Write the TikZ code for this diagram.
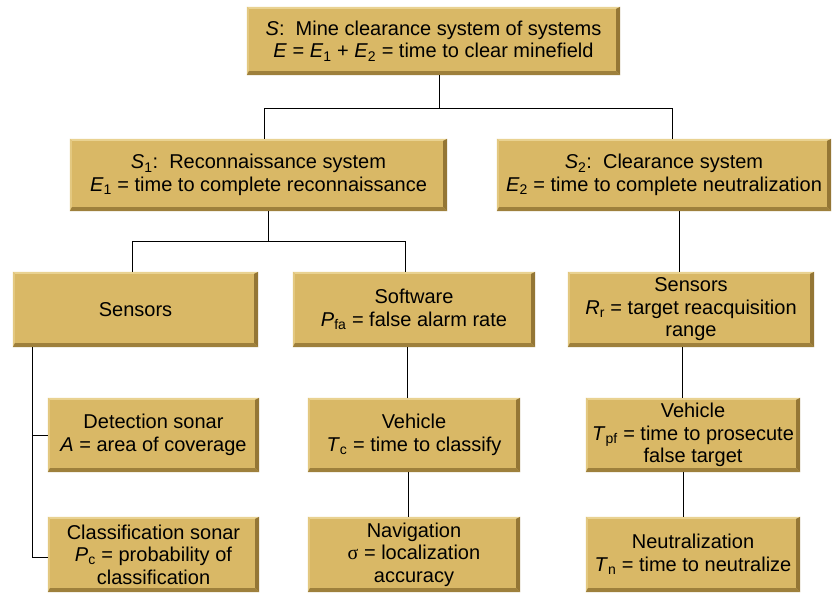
\documentclass[tikz,border=0pt]{standalone}
\usepackage{fontspec}
\setmainfont{Liberation Sans}
\newfontfamily\sigfont{Liberation Serif}
\usetikzlibrary{backgrounds}
\definecolor{gold}{HTML}{D9B866}
\definecolor{golddark}{HTML}{947635}
\definecolor{goldlight}{HTML}{E9D291}
\newcommand\iv[2]{\textit{#1}\textsubscript{#2}}
\tikzset{
  gbox/.style={fill=gold, inner sep=0pt, align=center, font=\fontsize{20}{22.5}\selectfont},
  conn/.style={draw=black, line width=0.9pt},
}
\newcommand\bevel[1]{%
  \begin{pgfonlayer}{background}
    \foreach \s in {1,...,6}{
      \fill[black, opacity=0.045]
        ([xshift=\s*0.8pt-1pt, yshift=-\s*0.8pt-1pt]#1.south west) rectangle
        ([xshift=\s*0.8pt+1pt, yshift=-\s*0.8pt+1pt]#1.north east);
    }
  \end{pgfonlayer}
  \fill[goldlight] (#1.north west) -- (#1.north east) -- ([xshift=-3pt,yshift=-2pt]#1.north east) -- ([xshift=2pt,yshift=-2pt]#1.north west) -- cycle;
  \fill[goldlight!60!gold] (#1.north west) -- ([xshift=2pt,yshift=-2pt]#1.north west) -- ([xshift=2pt,yshift=3pt]#1.south west) -- (#1.south west) -- cycle;
  \fill[golddark] (#1.north east) -- (#1.south east) -- ([xshift=-4pt,yshift=4pt]#1.south east) -- ([xshift=-4pt,yshift=-2pt]#1.north east) -- cycle;
  \fill[golddark!85!gold] (#1.south west) -- (#1.south east) -- ([xshift=-4pt,yshift=4pt]#1.south east) -- ([xshift=2pt,yshift=4pt]#1.south west) -- cycle;
}
\begin{document}
\begin{tikzpicture}[x=1pt,y=-1pt]
\useasboundingbox (0,0) rectangle (832,593);
\fill[white] (0,0) rectangle (832,593);

\node[gbox, minimum width=373pt, minimum height=68pt] (top) at (433.5,41)
  {\textit{S}:\ \ Mine clearance system of systems\\\textit{E} = \iv{E}{1} + \iv{E}{2} = time to clear minefield};
\node[gbox, minimum width=377pt, minimum height=72pt] (s1) at (258.5,175)
  {\iv{S}{1}:\ \ Reconnaissance system\\\iv{E}{1} = time to complete reconnaissance};
\node[gbox, minimum width=334pt, minimum height=72pt] (s2) at (664,175)
  {\iv{S}{2}:\ \ Clearance system\\\iv{E}{2} = time to complete neutralization};

\node[gbox, minimum width=245pt, minimum height=75pt] (sen) at (135.5,309.5) {Sensors};
\node[gbox, minimum width=242pt, minimum height=75pt] (sw) at (414,309.5)
  {Software\\\iv{P}{fa} = false alarm rate};
\node[gbox, minimum width=246pt, minimum height=75pt] (senr) at (691,309.5)
  {Sensors\\\iv{R}{r} = target reacquisition\\range};

\node[gbox, minimum width=211pt, minimum height=74pt] (det) at (153.5,435)
  {Detection sonar\\\textit{A} = area of coverage};
\node[gbox, minimum width=212pt, minimum height=74pt] (veh) at (414,435)
  {Vehicle\\\iv{T}{c} = time to classify};
\node[gbox, minimum width=214pt, minimum height=74pt] (vehr) at (693,435)
  {Vehicle\\\iv{T}{pf} = time to prosecute\\false target};

\node[gbox, minimum width=211pt, minimum height=75pt] (cls) at (153.5,554.5)
  {Classification sonar\\\iv{P}{c} = probability of\\classification};
\node[gbox, minimum width=212pt, minimum height=75pt] (nav) at (414,554.5)
  {Navigation\\{\sigfont σ} = localization\\accuracy};
\node[gbox, minimum width=214pt, minimum height=75pt] (neu) at (693,554.5)
  {Neutralization\\\iv{T}{n} = time to neutralize};

\foreach \n in {top,s1,s2,sen,sw,senr,det,veh,vehr,cls,nav,neu}{\bevel{\n}}

% connectors
\coordinate (j0) at (439,108);
\coordinate (jL) at (264,108);
\coordinate (jR) at (672,108);
\draw[conn] (top.south -| j0) -- (j0);
\draw[conn] (jL |- s1.north) -- (jL) -- (jR) -- (jR |- s2.north);

\coordinate (k0) at (268,241);
\coordinate (kL) at (132,241);
\coordinate (kR) at (405,241);
\draw[conn] (s1.south -| k0) -- (k0);
\draw[conn] (kL |- sen.north) -- (kL) -- (kR) -- (kR |- sw.north);

\coordinate (m1) at (679,250);
\draw[conn] (s2.south -| m1) -- (senr.north -| m1);
\coordinate (m2) at (682,380);
\draw[conn] (senr.south -| m2) -- (vehr.north -| m2);
\coordinate (m3) at (683,500);
\draw[conn] (vehr.south -| m3) -- (neu.north -| m3);

\coordinate (v1) at (407,380);
\draw[conn] (sw.south -| v1) -- (veh.north -| v1);
\coordinate (v2) at (408,500);
\draw[conn] (veh.south -| v2) -- (nav.north -| v2);

\coordinate (b1) at (32,435);
\coordinate (b2) at (32,557);
\draw[conn] (sen.south -| b1) -- (b2) -- (b2 -| cls.west);
\draw[conn] (b1) -- (b1 -| det.west);
\end{tikzpicture}
\end{document}
